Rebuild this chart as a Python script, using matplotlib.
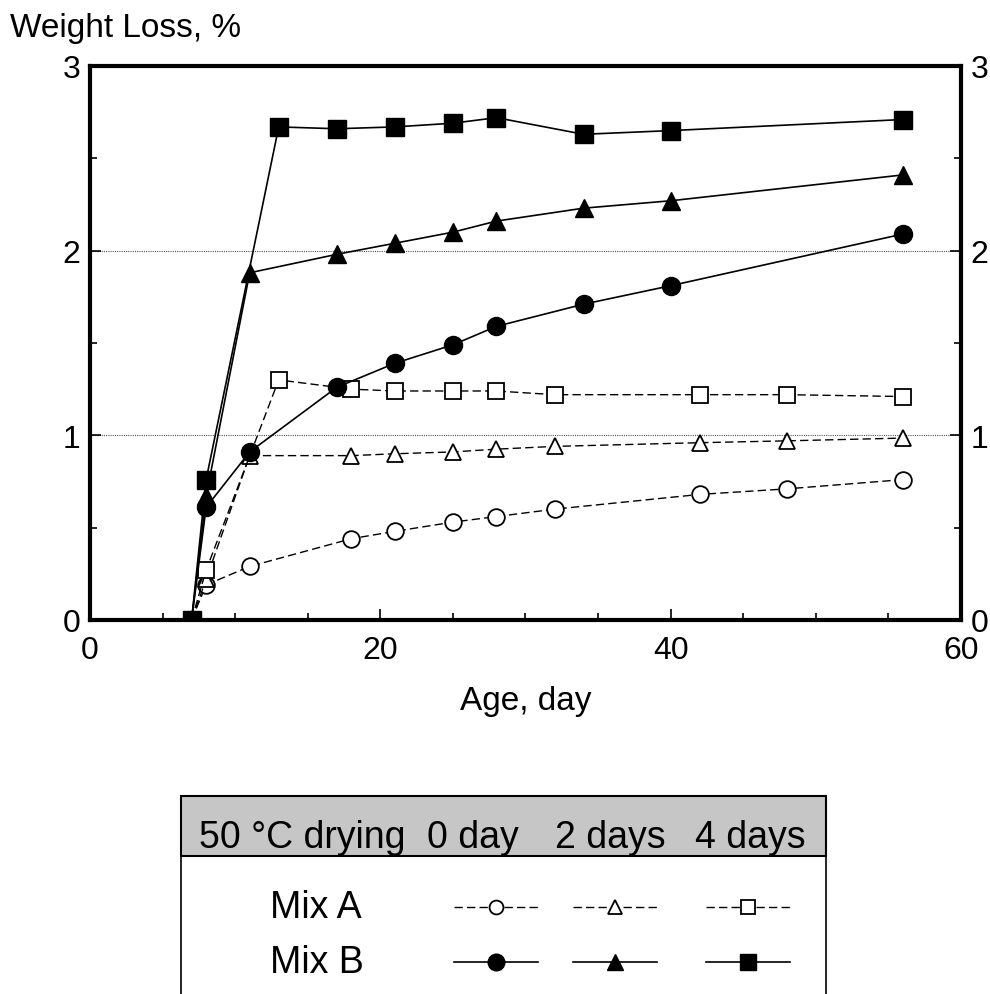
import matplotlib.pyplot as plt
from matplotlib.patches import Rectangle
from matplotlib.ticker import MultipleLocator

plt.rcParams['font.family'] = ['Liberation Sans', 'DejaVu Sans']

# Mix A (open markers, dashed)
a0_day = [7, 8, 11, 18, 21, 25, 28, 32, 42, 48, 56]
a0_loss = [0, 0.19, 0.29, 0.44, 0.48, 0.53, 0.56, 0.60, 0.68, 0.71, 0.76]
a2_day = [7, 8, 11, 18, 21, 25, 28, 32, 42, 48, 56]
a2_loss = [0, 0.22, 0.89, 0.89, 0.90, 0.91, 0.925, 0.94, 0.96, 0.97, 0.985]
a4_day = [7, 8, 13, 18, 21, 25, 28, 32, 42, 48, 56]
a4_loss = [0, 0.27, 1.30, 1.25, 1.24, 1.24, 1.24, 1.22, 1.22, 1.22, 1.21]

# Mix B (filled markers, solid)
b0_day = [7, 8, 11, 17, 21, 25, 28, 34, 40, 56]
b0_loss = [0, 0.61, 0.91, 1.26, 1.39, 1.49, 1.59, 1.71, 1.81, 2.09]
b2_day = [7, 8, 11, 17, 21, 25, 28, 34, 40, 56]
b2_loss = [0, 0.67, 1.88, 1.98, 2.04, 2.10, 2.16, 2.23, 2.27, 2.41]
b4_day = [7, 8, 13, 17, 21, 25, 28, 34, 40, 56]
b4_loss = [0, 0.76, 2.67, 2.66, 2.67, 2.69, 2.72, 2.63, 2.65, 2.71]

col_labels = ['50 °C drying', '0 day', '2 days', '4 days']
row_labels = ['Mix A', 'Mix B']

styles_a = dict(color='black', ls=(0, (6, 3)), lw=1.0, mfc='white', mec='black', mew=1.3)
styles_b = dict(color='black', ls='-', lw=1.2, mfc='black', mec='black')

fig = plt.figure(figsize=(9.9, 9.95), dpi=100)
ax = fig.add_axes([0.0909, 0.3759, 0.8798, 0.5568])

ax.plot(a0_day, a0_loss, marker='o', ms=12, **styles_a)
ax.plot(a2_day, a2_loss, marker='^', ms=12, **styles_a)
ax.plot(a4_day, a4_loss, marker='s', ms=12, **styles_a)
ax.plot(b0_day, b0_loss, marker='o', ms=13, **styles_b)
ax.plot(b2_day, b2_loss, marker='^', ms=13, **styles_b)
ax.plot(b4_day, b4_loss, marker='s', ms=13, **styles_b)

ax.set_xlim(0, 60)
ax.set_ylim(0, 3)
ax.xaxis.set_major_locator(MultipleLocator(20))
ax.xaxis.set_minor_locator(MultipleLocator(5))
ax.yaxis.set_major_locator(MultipleLocator(1))
ax.yaxis.set_minor_locator(MultipleLocator(0.5))
ax.tick_params(which='both', direction='in', top=False, right=True, labelright=True,
               labelsize=23, width=1.2)
ax.tick_params(axis='y', pad=7)
ax.tick_params(axis='x', pad=11)
ax.tick_params(which='major', length=8)
ax.tick_params(which='minor', length=5)
for s in ax.spines.values():
    s.set_linewidth(3)
for yv in (1, 2):
    ax.axhline(yv, color='#555555', lw=0.8, ls=(0, (1, 1)), zorder=0)

fig.text(0.01, 0.971, 'Weight Loss, %', fontsize=24, va='center', ha='left')
ax.set_xlabel('Age, day', fontsize=24, labelpad=14)

# legend table
lg = fig.add_axes([0, 0, 1, 1], facecolor='none')
lg.set_xlim(0, 990)
lg.set_ylim(995, 0)
lg.axis('off')
lg.add_patch(Rectangle((181, 797), 645, 60, facecolor='#c6c6c6', edgecolor='black', lw=1.5))
lg.add_patch(Rectangle((181, 857), 645, 160, facecolor='none', edgecolor='black', lw=1.2, clip_on=False))
col_x = [302, 473, 610, 750]
for x, t in zip(col_x, col_labels):
    lg.text(x, 838, t, fontsize=27, ha='center', va='center')
row_y = [908, 963]
for y, t in zip(row_y, row_labels):
    lg.text(270, y, t, fontsize=27, ha='left', va='center')
samp_x = [496, 615, 748]
markers = ['o', '^', 's']
for x, m in zip(samp_x, markers):
    lg.plot([x - 42, x + 42], [row_y[0], row_y[0]], marker=None, **styles_a)
    lg.plot([x], [row_y[0]], marker=m, ms=10, **styles_a)
    lg.plot([x - 42, x + 42], [row_y[1], row_y[1]], marker=None, **styles_b)
    lg.plot([x], [row_y[1]], marker=m, ms=12, **styles_b)

fig.savefig('out.png', dpi=100)
